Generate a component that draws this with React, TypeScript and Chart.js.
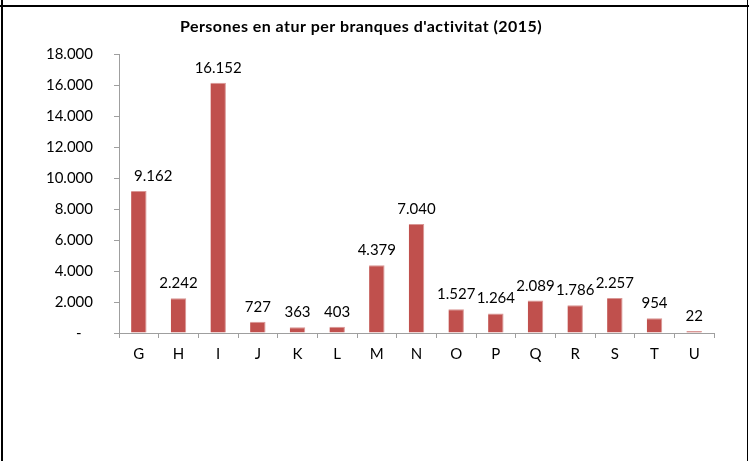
import React, { useEffect, useRef } from "react";
import { Chart, registerables } from "chart.js";

Chart.register(...registerables);

const title = "Persones en atur per branques d'activitat (2015)";
const categories = ["G", "H", "I", "J", "K", "L", "M", "N", "O", "P", "Q", "R", "S", "T", "U"];
const values = [9162, 2242, 16152, 727, 363, 403, 4379, 7040, 1527, 1264, 2089, 1786, 2257, 954, 22];
const yTicks = [0, 2000, 4000, 6000, 8000, 10000, 12000, 14000, 16000, 18000];

const FONT = "Lato, 'Open Sans', sans-serif";
const BAR = "#C0504D";
const AXIS = "#9f9f9f";

function fmt(n: number): string {
  return String(n).replace(/\B(?=(\d{3})+(?!\d))/g, ".");
}

const labelPlugin = {
  id: "valueLabels",
  afterDatasetsDraw(chart: any) {
    const ctx = chart.ctx;
    const meta = chart.getDatasetMeta(0);
    const minLeft = chart.chartArea.left + 15;
    ctx.save();
    ctx.font = `15px ${FONT}`;
    ctx.fillStyle = "#000";
    ctx.textAlign = "center";
    ctx.textBaseline = "alphabetic";
    meta.data.forEach((el: any, i: number) => {
      const txt = fmt(values[i]);
      const w = ctx.measureText(txt).width;
      let x = el.x;
      if (x - w / 2 < minLeft) x = minLeft + w / 2;
      ctx.fillText(txt, x, el.y - 10);
    });
    ctx.restore();
  },
};

const titlePlugin = {
  id: "customTitle",
  afterDraw(chart: any) {
    const ctx = chart.ctx;
    ctx.save();
    ctx.font = `bold 16px ${FONT}`;
    try {
      (ctx as any).letterSpacing = "0.45px";
    } catch (e) {}
    ctx.fillStyle = "#000";
    ctx.textAlign = "center";
    ctx.textBaseline = "alphabetic";
    ctx.fillText(title, 361, 32);
    ctx.restore();
  },
};

export default function App() {
  const ref = useRef<HTMLCanvasElement | null>(null);

  useEffect(() => {
    document.body.style.margin = "0";
    if (!ref.current) return;
    const chart = new Chart(ref.current, {
      type: "bar",
      data: {
        labels: categories,
        datasets: [
          {
            data: values,
            backgroundColor: BAR,
            borderColor: "#D99694",
            borderWidth: { top: 1, right: 1, left: 0, bottom: 0 },
            categoryPercentage: 1,
            barPercentage: 0.39,
            minBarLength: 2,
          },
        ],
      },
      options: {
        animation: false,
        responsive: false,
        maintainAspectRatio: false,
        layout: { padding: { left: 0, right: 35, top: 54, bottom: 0 } },
        plugins: {
          legend: { display: false },
          title: { display: false },
          tooltip: { enabled: false },
        },
        scales: {
          x: {
            afterFit: (s: any) => {
              s.height = 128;
            },
            grid: {
              display: true,
              drawOnChartArea: false,
              drawTicks: true,
              tickLength: 5,
              color: AXIS,
              offset: true,
            },
            border: { display: true, color: AXIS },
            ticks: {
              color: "#000",
              padding: 7,
              font: { family: FONT, size: 15 },
              maxRotation: 0,
            },
          },
          y: {
            min: 0,
            max: 18000,
            afterFit: (s: any) => {
              s.width = 119;
            },
            afterBuildTicks: (s: any) => {
              s.ticks = yTicks.map((v) => ({ value: v }));
            },
            grid: {
              display: true,
              drawOnChartArea: false,
              drawTicks: true,
              tickLength: 5,
              color: AXIS,
            },
            border: { display: true, color: AXIS },
            ticks: {
              color: "#000",
              padding: 21,
              font: { family: FONT, size: 15 },
              callback: (v: any) => (Number(v) === 0 ? "-\u00a0\u00a0\u00a0" : fmt(Number(v))),
            },
          },
        },
      },
      plugins: [labelPlugin, titlePlugin],
    });
    return () => chart.destroy();
  }, []);

  return (
    <div style={{ position: "absolute", left: 0, top: 0, width: 749, height: 461, background: "#fff" }}>
      <canvas ref={ref} width={749} height={461} style={{ display: "block", width: 749, height: 461 }} />
      <div style={{ position: "absolute", left: 1, top: 0, width: 2, height: 461, background: "#000" }} />
      <div style={{ position: "absolute", left: 0, top: 5, width: 749, height: 2, background: "#000" }} />
      <div style={{ position: "absolute", left: 747, top: 0, width: 1, height: 461, background: "#000" }} />
    </div>
  );
}
